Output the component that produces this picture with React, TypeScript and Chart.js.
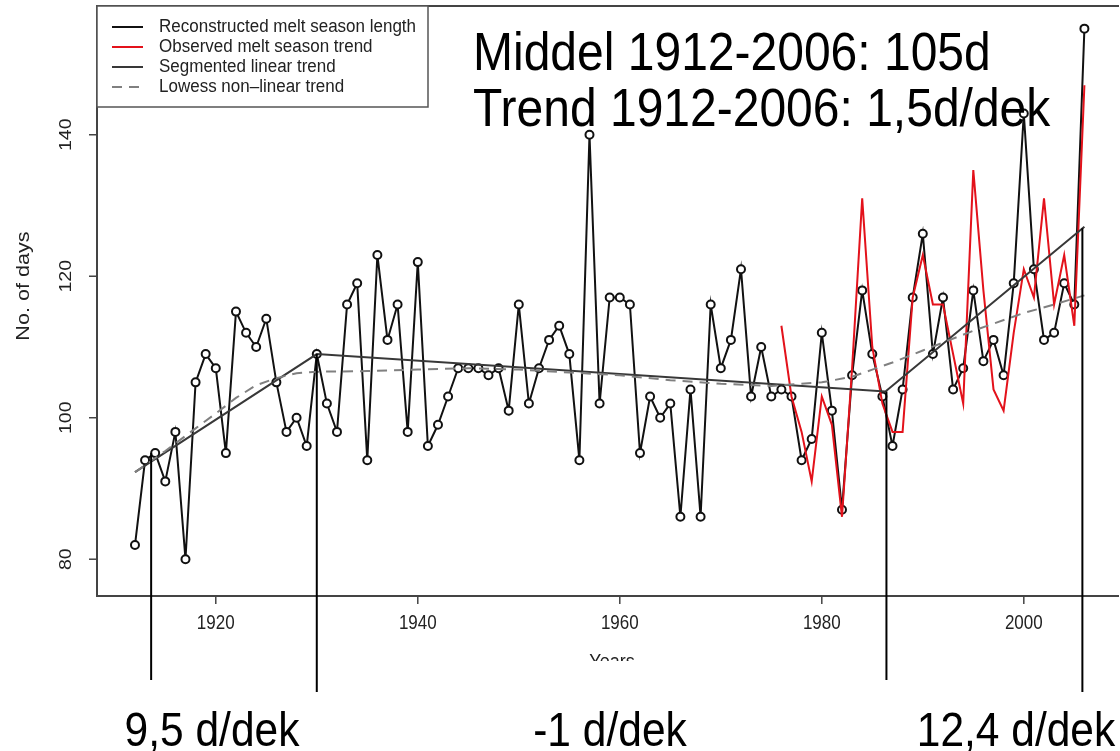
import { useEffect, useRef } from "react";
import { Chart, registerables } from "chart.js";

Chart.register(...registerables);

// Reconstructed melt season length (days), one value per year from 1912
const FIRST_YEAR = 1912;
const reconstructedDays = [
  82, 94, 95, 91, 98, 80, 105, 109,
  107, 95, 115, 112, 110, 114, 105, 98, 100, 96,
  109, 102, 98, 116, 119, 94, 123, 111, 116, 98,
  122, 96, 99, 103, 107, 107, 107, 106, 107, 101,
  116, 102, 107, 111, 113, 109, 94, 140, 102, 117,
  117, 116, 95, 103, 100, 102, 86, 104, 86, 116,
  107, 111, 121, 103, 110, 103, 104, 103, 94, 97,
  112, 101, 87, 106, 118, 109, 103, 96, 104, 117,
  126, 109, 117, 104, 107, 118, 108, 111, 106, 119,
  143, 121, 111, 112, 119, 116, 155,
];

// Observed melt season length (days), one value per year from 1976
const OBSERVED_FIRST_YEAR = 1976;
const observedDays = [
  113, 103, 98, 91, 103, 99, 86, 107, 131, 110,
  102, 98, 98, 117, 123, 116, 116, 109, 102, 135,
  118, 104, 101, 112, 121, 117, 131, 116, 123, 113,
  147,
];

// Segmented linear trend: break points
const segmentYears = [1912, 1930, 1986.3, 2006];
const segmentDays = [92.3, 109, 103.7, 127];

// Lowess non-linear trend
const lowessYears = [
  1912, 1915, 1918, 1920, 1922, 1924, 1926, 1928, 1930, 1935, 1940, 1945, 1950,
  1955, 1960, 1965, 1970, 1975, 1980, 1983, 1985, 1987, 1990, 1995, 2000, 2003, 2006,
];
const lowessDays = [
  92.3, 95.3, 98.5, 100.6, 102.8, 104.6, 105.6, 106.3, 106.5, 106.6, 106.8, 107.0, 106.8,
  106.4, 106.0, 105.3, 104.8, 104.5, 105.0, 105.8, 106.8, 107.8, 109.5, 112.3, 114.8, 116.0, 117.3,
];

// Axis ticks and ranges
const xTicks = [1920, 1940, 1960, 1980, 2000];
const yTicks = [80, 100, 120, 140];
const X_MIN = 1908.24;
const X_MAX = 2008.93;
const Y_MIN = 74.8;
const Y_MAX = 158.2;

// Period markers (year, trend value where the marker starts) and slope labels
const markerYears = [1913.6, 1930, 1986.4, 2005.8];
const markerDays = [95, 109, 103.7, 126.8];
const slopeLabels = ["9,5 d/dek", "-1 d/dek", "12,4 d/dek"];
const summaryLines = ["Middel 1912-2006: 105d", "Trend 1912-2006: 1,5d/dek"];

const FONT = "'Liberation Sans', Arial, Helvetica, sans-serif";

type TextOpts = {
  size: number;
  sy?: number;
  align?: CanvasTextAlign;
  baseline?: CanvasTextBaseline;
  color?: string;
  rotate?: boolean;
};

function drawText(ctx: CanvasRenderingContext2D, text: string, x: number, y: number, o: TextOpts) {
  ctx.save();
  ctx.translate(x, y);
  if (o.rotate) {
    ctx.rotate(-Math.PI / 2);
    ctx.scale(o.sy ?? 1, 1);
  } else {
    ctx.scale(1, o.sy ?? 1);
  }
  ctx.font = `${o.size}px ${FONT}`;
  ctx.fillStyle = o.color ?? "#000";
  ctx.textAlign = o.align ?? "left";
  ctx.textBaseline = o.baseline ?? "alphabetic";
  ctx.fillText(text, 0, 0);
  ctx.restore();
}

const decorations = {
  id: "decorations",
  afterDraw(chart: any) {
    const ctx: CanvasRenderingContext2D = chart.ctx;
    const { left, right, top, bottom } = chart.chartArea;
    const xs = chart.scales.x;
    const ys = chart.scales.y;

    // plot frame (right side runs past the canvas edge)
    ctx.save();
    ctx.strokeStyle = "#444";
    ctx.lineWidth = 2;
    ctx.beginPath();
    ctx.moveTo(right + 5, top);
    ctx.lineTo(left, top);
    ctx.lineTo(left, bottom);
    ctx.lineTo(right + 5, bottom);
    ctx.stroke();

    // y ticks and labels
    ctx.lineWidth = 1.5;
    for (const v of yTicks) {
      const py = ys.getPixelForValue(v);
      ctx.beginPath();
      ctx.moveTo(left, py);
      ctx.lineTo(left - 8, py);
      ctx.stroke();
      drawText(ctx, String(v), 66, py, { size: 17, sy: 1.15, align: "center", baseline: "middle", color: "#222", rotate: true });
    }
    // x ticks and labels
    for (const v of xTicks) {
      const px = xs.getPixelForValue(v);
      ctx.beginPath();
      ctx.moveTo(px, bottom);
      ctx.lineTo(px, bottom + 8);
      ctx.stroke();
      drawText(ctx, String(v), px, 629, { size: 17, sy: 1.15, align: "center", color: "#222" });
    }
    ctx.restore();

    // axis titles
    drawText(ctx, "No. of days", 24, 286, { size: 18, sy: 1.2, align: "center", baseline: "middle", color: "#222", rotate: true });
    ctx.save();
    ctx.beginPath();
    ctx.rect(0, 640, chart.width, 21);
    ctx.clip();
    drawText(ctx, "Years", 612, 668, { size: 18, sy: 1.15, align: "center", color: "#222" });
    ctx.restore();

    // legend
    const lx = left, ly = top, lw = 331, lh = 101;
    ctx.save();
    ctx.fillStyle = "#fff";
    ctx.fillRect(lx, ly, lw, lh);
    ctx.strokeStyle = "#555";
    ctx.lineWidth = 1.5;
    ctx.strokeRect(lx, ly, lw, lh);
    const rows = [21, 41, 61, 81];
    chart.data.datasets.forEach((ds: any, i: number) => {
      const ry = ly + rows[i];
      ctx.strokeStyle = ds.borderColor;
      ctx.lineWidth = 2;
      ctx.setLineDash(ds.borderDash ?? []);
      ctx.beginPath();
      ctx.moveTo(lx + 15, ry);
      ctx.lineTo(lx + 46, ry);
      ctx.stroke();
      ctx.setLineDash([]);
      drawText(ctx, ds.label, lx + 62, ry, { size: 17, sy: 1.05, baseline: "middle", color: "#222" });
    });
    ctx.restore();

    // summary text
    drawText(ctx, summaryLines[0], 473, 70, { size: 48, sy: 1.1 });
    drawText(ctx, summaryLines[1], 473, 126, { size: 48, sy: 1.1 });

    // period markers
    const ends = [680, 692, 680, 692];
    ctx.save();
    ctx.strokeStyle = "#000";
    ctx.lineWidth = 2;
    markerYears.forEach((yr, i) => {
      const px = xs.getPixelForValue(yr);
      ctx.beginPath();
      ctx.moveTo(px, ys.getPixelForValue(markerDays[i]));
      ctx.lineTo(px, ends[i]);
      ctx.stroke();
    });
    ctx.restore();

    // slope labels
    const labelX = [212, 610, 1016];
    slopeLabels.forEach((t, i) => {
      drawText(ctx, t, labelX[i], 746, { size: 42.5, sy: 1.15, align: "center" });
    });
  },
};

export default function App() {
  const ref = useRef<HTMLCanvasElement>(null);

  useEffect(() => {
    if (!ref.current) return;
    const chart = new Chart(ref.current, {
      type: "line",
      data: {
        datasets: [
          {
            label: "Reconstructed melt season length",
            data: reconstructedDays.map((d, i) => ({ x: FIRST_YEAR + i, y: d })),
            borderColor: "#111",
            borderWidth: 2,
            pointRadius: 4,
            pointBorderWidth: 2,
            pointBorderColor: "#111",
            pointBackgroundColor: "#fff",
            tension: 0,
            order: 4,
          },
          {
            label: "Observed melt season trend",
            data: observedDays.map((d, i) => ({ x: OBSERVED_FIRST_YEAR + i, y: d })),
            borderColor: "#e3121b",
            borderWidth: 2,
            pointRadius: 0,
            tension: 0,
            order: 3,
          },
          {
            label: "Segmented linear trend",
            data: segmentYears.map((yr, i) => ({ x: yr, y: segmentDays[i] })),
            borderColor: "#383838",
            borderWidth: 2,
            pointRadius: 0,
            tension: 0,
            order: 2,
          },
          {
            label: "Lowess non\u2013linear trend",
            data: lowessYears.map((yr, i) => ({ x: yr, y: lowessDays[i] })),
            borderColor: "#808080",
            borderWidth: 2,
            borderDash: [10, 7],
            pointRadius: 0,
            tension: 0,
            order: 1,
          },
        ],
      },
      options: {
        animation: false,
        responsive: false,
        events: [],
        layout: { padding: { left: 97, top: 4, right: 0, bottom: 155 } },
        scales: {
          x: { type: "linear", min: X_MIN, max: X_MAX, display: false },
          y: { type: "linear", min: Y_MIN, max: Y_MAX, display: false },
        },
        plugins: {
          legend: { display: false },
          tooltip: { enabled: false },
        },
      },
      plugins: [decorations],
    });
    return () => chart.destroy();
  }, []);

  return (
    <div style={{ position: "absolute", left: 0, top: 0, width: 1120, height: 751, background: "#fff" }}>
      <canvas ref={ref} width={1120} height={751} style={{ display: "block" }} />
    </div>
  );
}
